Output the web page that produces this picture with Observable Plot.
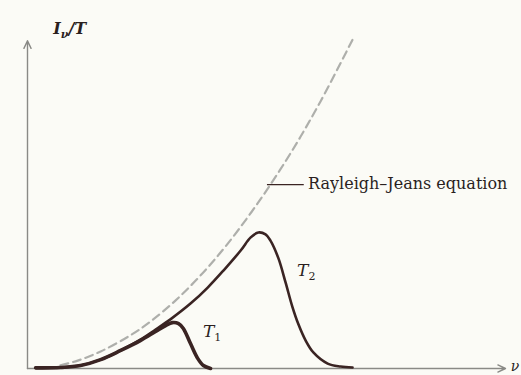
<!DOCTYPE html>
<html>
<head>
<meta charset="utf-8">
<script src="https://cdn.jsdelivr.net/npm/d3@7"></script>
<script src="https://cdn.jsdelivr.net/npm/@observablehq/plot@0.6"></script>
<style>
  html, body { margin: 0; padding: 0; background: #fbfbf6; }
  #chart svg { display: block; }
</style>
</head>
<body>
<div id="chart"></div>
<script>
// Rayleigh–Jeans (dashed) curve
const rjNu = [0.69, 1.05, 1.53, 2.15, 2.57, 3.10, 3.62, 4.14, 4.81, 5.50, 6.13, 6.82];
const rjI  = [0.10, 0.24, 0.52, 1.01, 1.43, 2.08, 2.84, 3.72, 5.03, 6.56, 8.15, 10.09];

// Planck curve at T1 (lower temperature)
const t1Nu = [0.17, 0.69, 1.11, 1.53, 1.95, 2.36, 2.68, 2.89, 3.03, 3.16, 3.26, 3.41, 3.56, 3.68, 3.83];
const t1I  = [0.02, 0.03, 0.09, 0.27, 0.55, 0.85, 1.13, 1.31, 1.40, 1.37, 1.22, 0.76, 0.31, 0.09, 0.00];

// Planck curve at T2 (higher temperature)
const t2Nu = [0.17, 0.69, 1.11, 1.53, 1.95, 2.36, 2.68, 2.99, 3.41, 3.77, 4.10, 4.46, 4.67, 4.83, 4.98, 5.08, 5.25, 5.40, 5.54, 5.67, 5.82, 5.98, 6.28, 6.55, 6.80];
const t2I  = [0.02, 0.03, 0.09, 0.27, 0.55, 0.88, 1.19, 1.50, 1.98, 2.47, 2.99, 3.60, 4.00, 4.15, 4.09, 3.91, 3.36, 2.62, 1.89, 1.34, 0.85, 0.49, 0.15, 0.06, 0.03];

const rj = rjNu.map((x, i) => ({nu: x, I: rjI[i]}));
const t1 = t1Nu.map((x, i) => ({nu: x, I: t1I[i]}));
const t2 = t2Nu.map((x, i) => ({nu: x, I: t2I[i]}));

const ink = "#3a2423";
const axisInk = "#8a8a86";
const serif = "'DejaVu Serif', 'Liberation Serif', serif";

const plot = Plot.plot({
  width: 521,
  height: 375,
  marginLeft: 27,
  marginRight: 16,
  marginTop: 37,
  marginBottom: 7,
  style: {background: "#fbfbf6"},
  x: {domain: [0, 10], axis: null},
  y: {domain: [0, 10.1], axis: null},
  marks: [
    Plot.arrow([{x1: 0, y1: 0, x2: 0, y2: 10}], {x1: "x1", y1: "y1", x2: "x2", y2: "y2", stroke: axisInk, strokeWidth: 1.4, headLength: 9, headAngle: 50}),
    Plot.arrow([{x1: 0, y1: 0, x2: 10, y2: 0}], {x1: "x1", y1: "y1", x2: "x2", y2: "y2", stroke: axisInk, strokeWidth: 1.4, headLength: 9, headAngle: 50}),
    Plot.line(rj, {x: "nu", y: "I", curve: "catmull-rom", stroke: "#aeafab", strokeWidth: 2.2, strokeDasharray: "8,5"}),
    Plot.line(t2, {x: "nu", y: "I", curve: "catmull-rom", stroke: ink, strokeWidth: 2.6}),
    Plot.line(t1, {x: "nu", y: "I", curve: "catmull-rom", stroke: ink, strokeWidth: 3.6}),
    Plot.ruleY([5.61], {x1: 5.02, x2: 5.79, stroke: ink, strokeWidth: 1.2})
  ]
});

document.getElementById("chart").appendChild(plot);

const sx = plot.scale("x"), sy = plot.scale("y");
const svg = d3.select(plot);

function label(x, y, parts, size, weight) {
  const t = svg.append("text")
    .attr("x", sx.apply(x)).attr("y", sy.apply(y))
    .attr("text-anchor", "start")
    .attr("fill", "#2a1f1e")
    .style("font-family", serif)
    .style("font-size", size + "px")
    .style("font-weight", weight || "normal");
  parts.forEach(p => {
    const s = t.append("tspan").text(p.text);
    if (p.italic) s.style("font-style", "italic");
    if (p.sub) s.attr("dy", p.dy).style("font-size", p.sub + "px");
    if (p.up) s.attr("dy", p.up);
  });
  return t;
}

label(0.55, 10.19, [{text: "I", italic: true}, {text: "ν", italic: true, sub: 11, dy: 4}, {text: "/T", italic: true, up: -4}], 16, 600);
label(3.68, 0.95, [{text: "T", italic: true}, {text: "1", sub: 11, dy: 4}], 17);
label(5.65, 2.81, [{text: "T", italic: true}, {text: "2", sub: 11, dy: 4}], 17);
label(10.12, -0.1, [{text: "ν", italic: true}], 14);
label(5.88, 5.46, [{text: "Rayleigh–Jeans equation"}], 16);
</script>
</body>
</html>
